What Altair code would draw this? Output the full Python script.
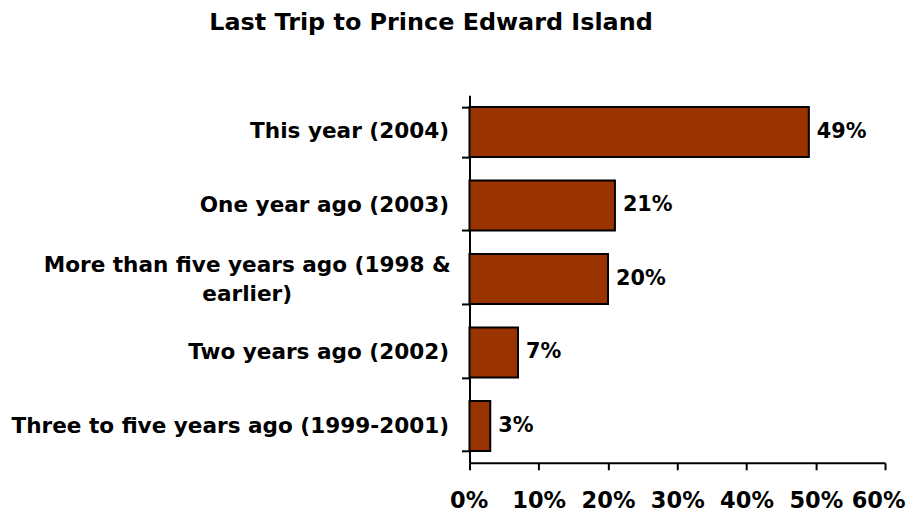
import altair as alt
import pandas as pd

categories = [
    "This year (2004)",
    "One year ago (2003)",
    "More than five years ago (1998 & earlier)",
    "Two years ago (2002)",
    "Three to five years ago (1999-2001)",
]
values = [49, 21, 20, 7, 3]
x_ticks = [0, 10, 20, 30, 40, 50, 60]

df = pd.DataFrame({"cat": categories, "val": values})
df["lab"] = df["val"].astype(str) + "%"

FONT = "DejaVu Sans"
LONG = categories[2]
test = "datum.value == '" + LONG + "'"

label_expr = (
    test + " ? ['More than five years ago (1998 &', 'earlier)'] : datum.value"
)

y = alt.Y(
    "cat:N",
    sort=None,
    title=None,
    scale=alt.Scale(paddingInner=0.32, paddingOuter=0.16),
    axis=alt.Axis(
        labelExpr=label_expr,
        labelFont=FONT,
        labelFontWeight="bold",
        labelFontSize=21.6,
        labelColor="black",
        labelPadding={"condition": {"test": test, "value": 215}, "value": 13},
        labelAlign={"condition": {"test": test, "value": "center"}, "value": "right"},
        labelOffset={"condition": {"test": test, "value": -13.5}, "value": 0},
        labelLimit=600,
        labelLineHeight=29,
        tickBand="extent",
        tickSize=8,
        tickWidth=2,
        tickColor="black",
        domainColor="black",
        domainWidth=2,
    ),
)

x = alt.X(
    "val:Q",
    title=None,
    scale=alt.Scale(domain=[0, 60], nice=False),
    axis=alt.Axis(
        values=x_ticks,
        labelExpr="datum.value + '%'",
        labelFont=FONT,
        labelFontWeight="bold",
        labelFontSize=22.5,
        labelColor="black",
        labelPadding=20,
        labelFlush=True,
        labelFlushOffset=20,
        tickSize=7,
        tickWidth=2,
        tickColor="black",
        domainColor="black",
        domainWidth=2,
        grid=False,
    ),
)

bars = alt.Chart(df).mark_bar(
    color="#993300", stroke="black", strokeWidth=2
).encode(x=x, y=y)

text = alt.Chart(df).mark_text(
    align="left", baseline="middle", dx=8,
    font=FONT, fontWeight="bold", fontSize=20.8, color="black"
).encode(x="val:Q", y=alt.Y("cat:N", sort=None), text="lab:N")

chart = (bars + text).properties(
    width=416,
    height=368,
    title=alt.TitleParams(
        "Last Trip to Prince Edward Island",
        font=FONT,
        fontSize=23.9,
        fontWeight="bold",
        color="black",
        anchor="middle",
        frame="bounds",
        dx=-27,
        offset=49,
    ),
    padding={"left": 2, "top": 3, "right": 2, "bottom": 2},
).configure_view(stroke=None)

chart.save("out.html", embed_options={"renderer": "svg", "actions": False})
